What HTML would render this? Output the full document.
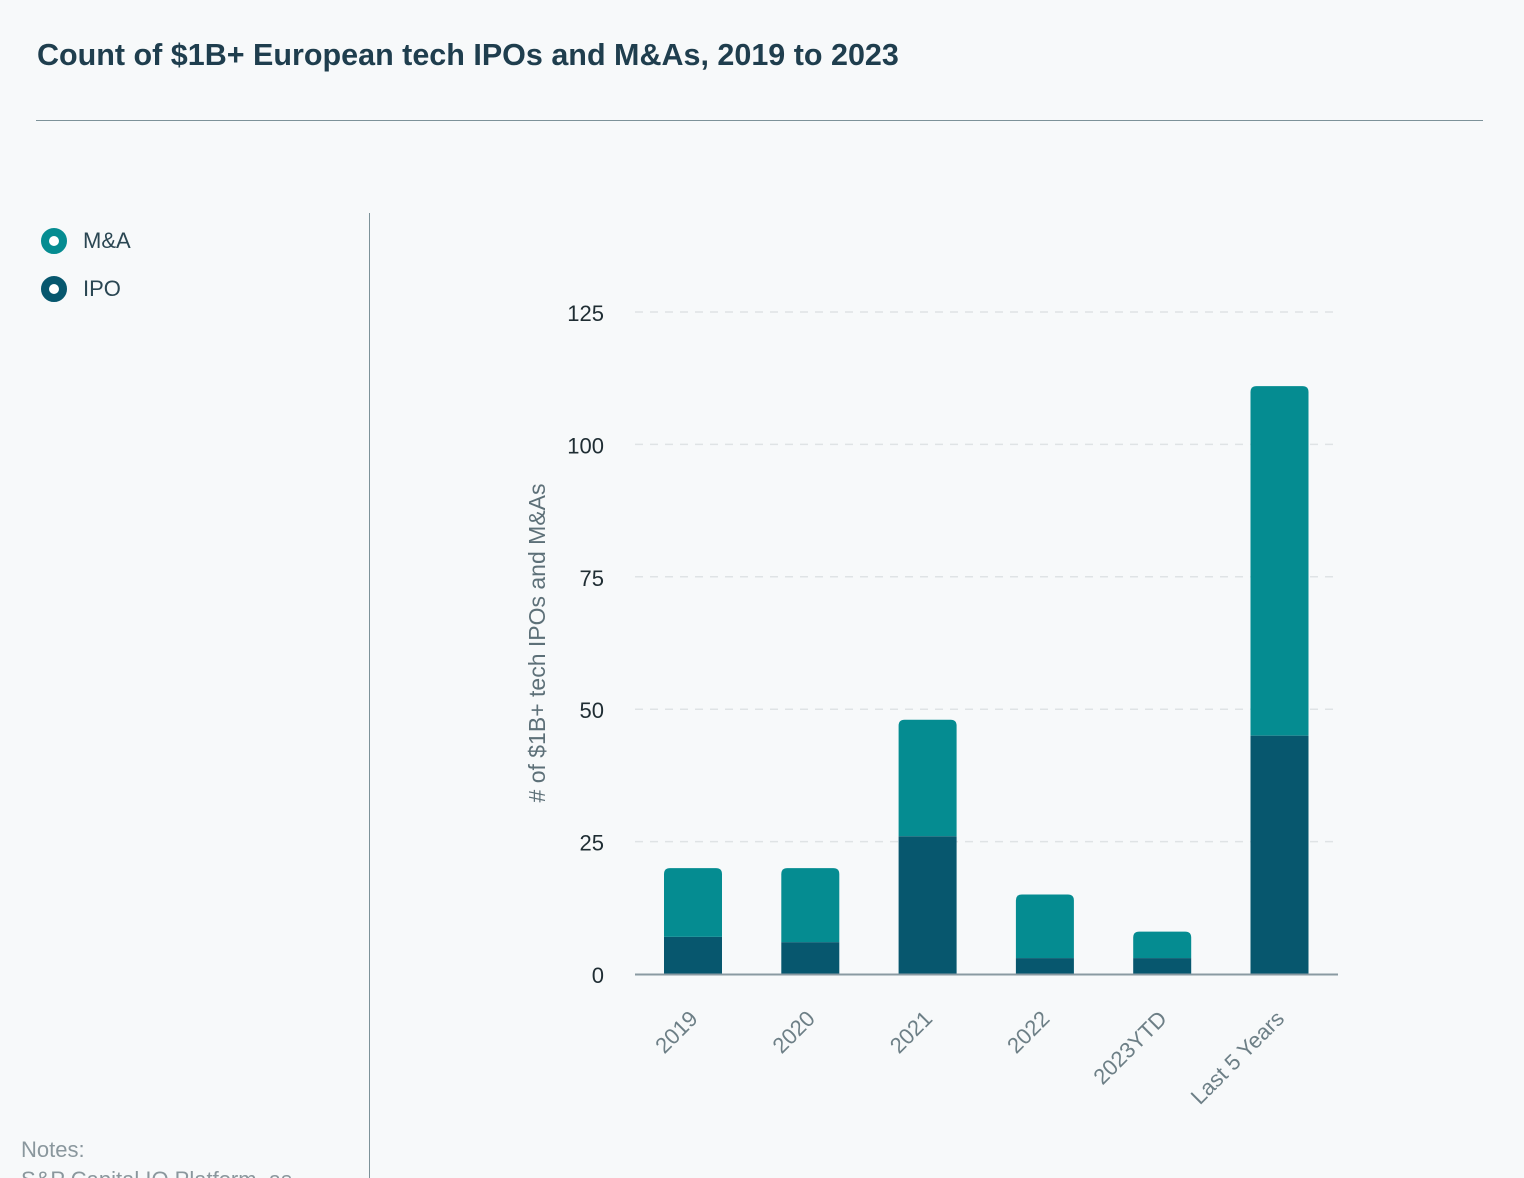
<!DOCTYPE html>
<html><head><meta charset="utf-8"><style>
body{margin:0;background:#f7f9fa;font-family:"Liberation Sans",sans-serif;}
#root{position:relative;width:1524px;height:1178px;overflow:hidden;background:#f7f9fa;}
</style></head><body>
<div id="root">
<div style="position:absolute;left:37px;top:38px;font-size:30.5px;font-weight:bold;color:#1f3e4e;letter-spacing:0px;">Count of $1B+ European tech IPOs and M&amp;As, 2019 to 2023</div>
<div style="position:absolute;left:36px;top:120px;width:1447px;height:1px;background:#7d9299;"></div>
<div style="position:absolute;left:369px;top:213px;width:1px;height:965px;background:#7d9299;"></div>
<div style="position:absolute;left:41px;top:228px;height:26px;display:flex;align-items:center;">
<span style="width:10px;height:10px;border:8px solid #058c91;border-radius:50%;background:#fff;box-sizing:content-box;"></span>
<span style="margin-left:16px;font-size:22px;color:#2a4652;">M&amp;A</span></div>
<div style="position:absolute;left:41px;top:276px;height:26px;display:flex;align-items:center;">
<span style="width:10px;height:10px;border:8px solid #07576e;border-radius:50%;background:#fff;box-sizing:content-box;"></span>
<span style="margin-left:16px;font-size:22px;color:#2a4652;">IPO</span></div>
<div style="position:absolute;left:21px;top:1135px;font-size:22px;color:#8a979d;line-height:30px;">Notes:<br>S&amp;P Capital IQ Platform, as</div>
<svg id="chart" width="1524" height="1178" style="position:absolute;left:0;top:0;"></svg>
</div>
<script>
const categories=["2019","2020","2021","2022","2023YTD","Last 5 Years"];
const ipoValues=[7,6,26,3,3,45];
const maValues=[13,14,22,12,5,66];
const tickValues=[0,25,50,75,100,125];
const svg=document.getElementById('chart');
const NS='http://www.w3.org/2000/svg';
const y0=974,yTop=312,vMax=125;
function y(v){return y0-(y0-yTop)*v/vMax;}
const firstCenter=693,step=117.3,bw=58;
function x(i){return firstCenter+i*step;}
function mk(t,a){const e=document.createElementNS(NS,t);for(const k in a)e.setAttribute(k,a[k]);svg.appendChild(e);return e;}
tickValues.forEach(v=>{
 if(v>0){const g=mk('line',{x1:635,x2:1334,y1:y(v),y2:y(v),stroke:'#dfe3e5','stroke-width':1.5,'stroke-dasharray':'8,7'});
 
 }
 const t=mk('text',{x:604,y:y(v)+9,'text-anchor':'end','font-size':22,fill:'#1f2d33','font-family':'Liberation Sans, sans-serif'});
 t.textContent=v;
 
 
});
const yt=mk('text',{transform:'translate(545,643) rotate(-90)','text-anchor':'middle','font-size':23,fill:'#5d7078','font-family':'Liberation Sans, sans-serif'});
yt.textContent='# of $1B+ tech IPOs and M&As';


categories.forEach((c,i)=>{
 const xl=x(i)-bw/2, tot=ipoValues[i]+maValues[i];
 const r=6, top=y(tot), mid=y(ipoValues[i]);
 const m=mk('path',{d:`M${xl},${mid} L${xl},${top+r} Q${xl},${top} ${xl+r},${top} L${xl+bw-r},${top} Q${xl+bw},${top} ${xl+bw},${top+r} L${xl+bw},${mid} Z`,fill:'#058c91'});
 
 
 const p=mk('rect',{x:xl,y:mid,width:bw,height:y0-mid,fill:'#07576e'});
 
 
 const t=mk('text',{transform:`translate(${x(i)+6},${1020}) rotate(-45)`,'text-anchor':'end','font-size':22,fill:'#6d7f86','font-family':'Liberation Sans, sans-serif'});
 t.textContent=c;
 
 
});
const ax=mk('line',{x1:635,x2:1338,y1:y0+0.5,y2:y0+0.5,stroke:'#8a9aa2','stroke-width':2});


</script>
</body></html>
